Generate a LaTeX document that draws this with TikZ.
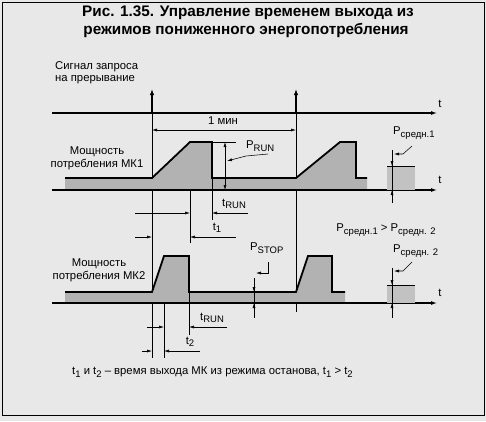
\documentclass[tikz,border=0pt]{standalone}
\usepackage{fontspec}
\setmainfont{Liberation Sans}
\usetikzlibrary{arrows.meta}
\newcommand\sbs[1]{\raisebox{-0.4ex}{\fontsize{9.5}{10}\selectfont #1}}
\begin{document}
\begin{tikzpicture}[x=1pt,y=-1pt,
  axis/.style={line width=1.1pt,-{Latex[length=6pt,width=4pt]}},
  pulse/.style={line width=1.6pt,-{Latex[length=6pt,width=4.5pt]}},
  trace/.style={line width=1.8pt,line join=miter},
  shadefill/.style={fill=black!30},
  avgfill/.style={fill=black!24},
  dim/.style={line width=0.55pt},
  tip/.style={dim,-{Latex[length=5pt,width=3pt]}},
  dtip/.style={dim,{Latex[length=5pt,width=3pt]}-{Latex[length=5pt,width=3pt]}},
  lbl/.style={font=\fontsize{11.3}{13}\selectfont,inner sep=0pt},
  ttl/.style={font=\fontsize{15.3}{17}\selectfont\bfseries,inner sep=0pt}
]
\useasboundingbox (0,0) rectangle (486,421);
\fill[black!9] (0,0) rectangle (486,421);
\draw[line width=1pt] (2,2) rectangle (484,415);

% title
\node[ttl] (title1) at (248,13) {Рис. 1.35. Управление временем выхода из};
\node[ttl] (title2) at (246,30) {режимов пониженного энергопотребления};

% interrupt request
\node[lbl,anchor=west] (sig1) at (55,67) {Сигнал запроса};
\node[lbl,anchor=west] (sig2) at (55,80) {на прерывание};
\draw[axis] (52,113) -- (437,113);
\node[lbl] (t0) at (440,104) {t};
\coordinate (r1) at (152,113); \coordinate (r1t) at (152,89);
\coordinate (r2) at (296,113); \coordinate (r2t) at (296,89);
\draw[pulse] (r1) -- (r1t);
\draw[pulse] (r2) -- (r2t);
\draw[dim] (152,113) -- (152,358);
\draw[dim] (296,113) -- (296,312);
\draw[dtip] (152,130) -- (296,130);
\node[lbl] (min) at (223,121) {1 мин};

% MK1
\node[lbl,align=center] (mk1) at (97,158) {Мощность\\потребления МК1};
\fill[shadefill] (65,178) -- (152,178) -- (190,142) -- (212,142) -- (212,178) -- (296,178)
  -- (340,142) -- (356,142) -- (356,178) -- (367,178) -- (367,190) -- (65,190) -- cycle;
\draw[trace] (65,178) -- (152,178) -- (190,142) -- (212,142) -- (212,178) -- (296,178)
  -- (340,142) -- (356,142) -- (356,178) -- (367,178);
\draw[axis] (52,190) -- (437,190);
\node[lbl] (t1ax) at (440,180) {t};
% P_RUN
\draw[dim] (212,142) -- (236,142);
\draw[dtip] (225,142) -- (225,190);
\node[lbl,anchor=west] (prun) at (246,146) {P\sbs{RUN}};
\coordinate (prunA) at (268,154);
\coordinate (prunB) at (246,156);
\coordinate (prunT) at (227,161);
\draw[tip] (prunA) -- (prunB) -- (prunT);
% t_RUN MK1
\draw[dim] (212,178) -- (212,220);
\draw[dim] (190,190) -- (190,243);
\draw[tip] (135,213) -- (190,213);
\draw[tip] (248,213) -- (212,213);
\node[lbl,anchor=west] (trun1) at (222,204) {t\sbs{RUN}};
% t1
\draw[tip] (135,237) -- (152,237);
\draw[tip] (236,237) -- (190,237);
\node[lbl] (tone) at (217,228) {t\sbs{1}};
% P avg 1
\fill[avgfill] (387,166) rectangle (415,190);
\draw[line width=0.8pt] (387,166) -- (415,166);
\draw[dim] (392,150) -- (392,203);
\draw[tip] (392,150) -- (392,166);
\draw[tip] (392,203) -- (392,190);
\node[lbl,anchor=west] (pav1) at (393,133) {P\sbs{средн.1}};
\coordinate (pav1A) at (412,146);
\coordinate (pav1B) at (403,154);
\coordinate (pav1T) at (394,154);
\draw[tip] (pav1A) -- (pav1B) -- (pav1T);
\node[lbl] (cmp) at (386,230) {P\sbs{средн.1} > P\sbs{средн. 2}};

% MK2
\node[lbl,align=center] (mk2) at (99,270) {Мощность\\потребления МК2};
\fill[shadefill] (65,292) -- (152,292) -- (164,256) -- (189,256) -- (189,292) -- (296,292)
  -- (308,256) -- (332,256) -- (332,292) -- (345,292) -- (345,303) -- (65,303) -- cycle;
\draw[trace] (65,292) -- (152,292) -- (164,256) -- (189,256) -- (189,292) -- (296,292)
  -- (308,256) -- (332,256) -- (332,292) -- (345,292);
\draw[axis] (52,303) -- (437,303);
\node[lbl] (t2ax) at (440,293) {t};
% P_STOP
\draw[dim] (254,278) -- (254,318);
\draw[tip] (254,278) -- (254,292);
\draw[tip] (254,318) -- (254,303);
\node[lbl,anchor=west] (pstop) at (250,248) {P\sbs{STOP}};
\coordinate (pstA) at (268,262);
\coordinate (pstB) at (268,273);
\coordinate (pstT) at (256,273);
\draw[tip] (pstA) -- (pstB) -- (pstT);
% t_RUN MK2
\draw[dim] (164,303) -- (164,358);
\draw[dim] (189,292) -- (189,335);
\draw[tip] (147,327) -- (164,327);
\draw[tip] (227,327) -- (189,327);
\node[lbl,anchor=west] (trun2) at (200,318) {t\sbs{RUN}};
% t2
\draw[tip] (142,351) -- (152,351);
\draw[tip] (200,351) -- (164,351);
\node[lbl] (ttwo) at (190,342) {t\sbs{2}};
% P avg 2
\fill[avgfill] (387,285) rectangle (415,303);
\draw[line width=0.8pt] (387,285) -- (415,285);
\draw[dim] (392,268) -- (392,318);
\draw[tip] (392,268) -- (392,285);
\draw[tip] (392,318) -- (392,303);
\node[lbl,anchor=west] (pav2) at (393,251) {P\sbs{средн. 2}};
\coordinate (pav2A) at (412,262);
\coordinate (pav2B) at (403,271);
\coordinate (pav2T) at (394,271);
\draw[tip] (pav2A) -- (pav2B) -- (pav2T);

% bottom note
\node[lbl,anchor=west] (note) at (72,372) {t\sbs{1} и t\sbs{2} – время выхода МК из режима останова, t\sbs{1} > t\sbs{2}};
\end{tikzpicture}
\end{document}
